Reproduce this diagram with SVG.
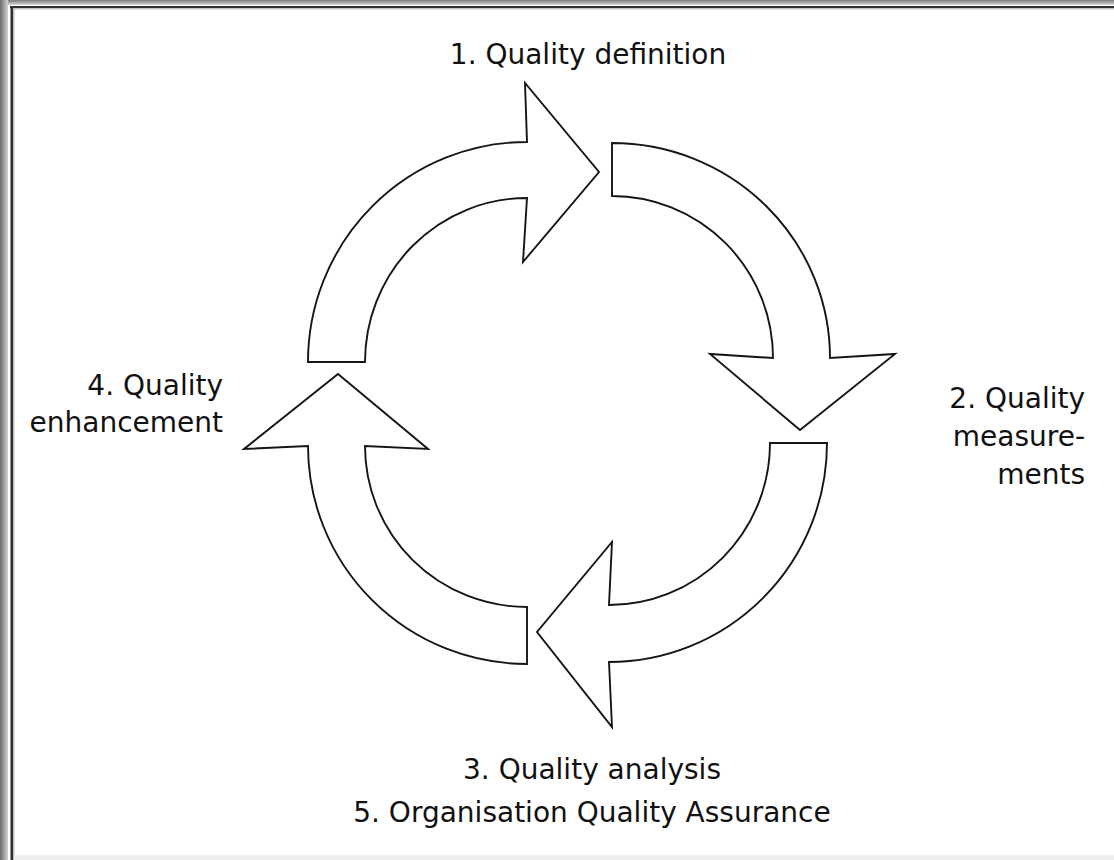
<svg xmlns="http://www.w3.org/2000/svg" width="1114" height="860" viewBox="0 0 1114 860">
  <defs>
    <linearGradient id="gl" x1="0" y1="0" x2="1" y2="0">
      <stop offset="0" stop-color="#6a6a6a"/>
      <stop offset="1" stop-color="#d4d4d4"/>
    </linearGradient>
    <linearGradient id="gt" x1="0" y1="0" x2="0" y2="1">
      <stop offset="0" stop-color="#7a7a7a"/>
      <stop offset="1" stop-color="#d8d8d8"/>
    </linearGradient>
  </defs>
  <style>
    .arrow { fill: #ffffff; stroke: #151515; stroke-width: 1.9; stroke-linejoin: miter; }
    .lbl { font-family: Tahoma, "DejaVu Sans", "Liberation Sans", sans-serif; font-size: 28px; fill: #111111; }
  </style>
  <rect x="0" y="0" width="1114" height="860" fill="#ffffff"/>
  <g id="frame">
    <rect x="0" y="0" width="1114" height="5" fill="url(#gt)"/>
    <rect x="0" y="0" width="8" height="860" fill="url(#gl)"/>
    <rect x="10" y="6" width="1104" height="2.2" fill="#303030"/>
    <rect x="10.5" y="6" width="2.6" height="854" fill="#303030"/>
    <rect x="13" y="8.2" width="1101" height="1.2" fill="#bdbdbd"/>
    <rect x="13.1" y="8.2" width="1.4" height="852" fill="#bdbdbd"/>
    <rect x="14" y="855" width="1100" height="5" fill="#efefef"/>
  </g>
  <g id="connectors">
    <path id="arrow1" class="arrow" d="M308,362 A219,220 0 0 1 527,142 L525,83 L599,172 L523,262 L527,198 A162,164 0 0 0 365,362 Z"/>
    <path id="arrow2" class="arrow" d="M612,143 A218,215 0 0 1 830,358 L895,354 L800,430 L710,354 L773,358 A161,162 0 0 0 612,196 Z"/>
    <path id="arrow3" class="arrow" d="M827,443 A218,219 0 0 1 609,662 L612,727 L537,632 L612,542 L609,605 A161,162 0 0 0 770,443 Z"/>
    <path id="arrow4" class="arrow" d="M527,664 A219,218 0 0 1 308,446 L244,449 L338,374 L428,449 L365,446 A162,161 0 0 0 527,607 Z"/>
  </g>
  <g id="node1">
    <text class="lbl" x="588" y="64" text-anchor="middle">1. Quality definition</text>
  </g>
  <g id="node2">
    <text class="lbl" x="1085" y="408" text-anchor="end">2. Quality</text>
    <text class="lbl" x="1085" y="446" text-anchor="end">measure-</text>
    <text class="lbl" x="1085" y="484" text-anchor="end">ments</text>
  </g>
  <g id="node3">
    <text class="lbl" x="592" y="779" text-anchor="middle">3. Quality analysis</text>
  </g>
  <g id="node4">
    <text class="lbl" x="223" y="395" text-anchor="end">4. Quality</text>
    <text class="lbl" x="223" y="432" text-anchor="end">enhancement</text>
  </g>
  <g id="node5">
    <text class="lbl" x="592" y="822" text-anchor="middle">5. Organisation Quality Assurance</text>
  </g>
</svg>
